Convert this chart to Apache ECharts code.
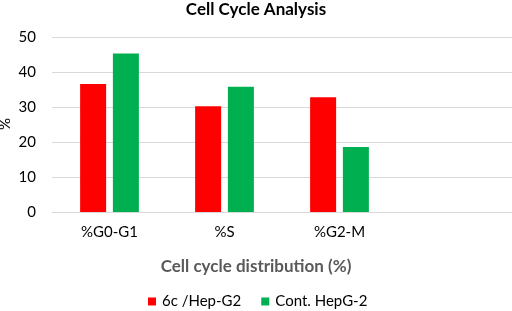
<!DOCTYPE html>
<html>
<head>
<meta charset="utf-8">
<script src="https://cdn.jsdelivr.net/npm/echarts@6/dist/echarts.min.js"></script>
<style>
html,body{margin:0;padding:0;background:#fff;}
#c{width:512px;height:311px;}
</style>
</head>
<body>
<div id="c"></div>
<script>
const categories = ['%G0-G1', '%S', '%G2-M', ''];
const seriesNames = ['6c /Hep-G2', 'Cont. HepG-2'];
const hepG2 = [36.6, 30.2, 32.8, null];
const contHepG2 = [45.3, 35.8, 18.6, null];
const yTicks = [0, 10, 20, 30, 40, 50];

const FONT = 'Lato, "Open Sans", sans-serif';
const chart = echarts.init(document.getElementById('c'), null, {renderer: 'canvas'});
chart.setOption({
  animation: false,
  backgroundColor: '#ffffff',
  textStyle: {fontFamily: FONT},
  title: {
    text: 'Cell Cycle Analysis',
    left: 'center',
    top: 1,
    padding: [0, 0, 0, 0],
    textStyle: {fontFamily: FONT, fontWeight: 'bold', fontSize: 17, color: '#000'}
  },
  grid: {left: 52, right: 0, top: 37, bottom: 99, containLabel: false, outerBoundsMode: 'none'},
  legend: {
    left: 148,
    top: 294,
    padding: 0,
    itemWidth: 8,
    itemHeight: 8,
    itemGap: 20,
    icon: 'rect',
    textStyle: {fontFamily: FONT, fontSize: 15, color: '#000', padding: [0, 0, 0, 1]},
    data: seriesNames
  },
  xAxis: {
    type: 'category',
    data: categories,
    axisLine: {show: true, lineStyle: {color: '#d9d9d9', width: 1}},
    axisTick: {show: false},
    axisLabel: {fontFamily: FONT, fontSize: 15, color: '#000', margin: 13}
  },
  yAxis: {
    type: 'value',
    min: yTicks[0],
    max: yTicks[yTicks.length - 1],
    interval: yTicks[1] - yTicks[0],
    axisLine: {show: false},
    axisTick: {show: false},
    axisLabel: {fontFamily: FONT, fontSize: 15, color: '#000', margin: 16},
    splitLine: {lineStyle: {color: '#d9d9d9', width: 1}}
  },
  graphic: [{
    type: 'text',
    left: 'center',
    top: 258,
    style: {
      text: 'Cell cycle distribution (%)',
      fontFamily: FONT,
      fontSize: 17,
      fontWeight: 'bold',
      fill: '#595959'
    }
  }, {
    type: 'text',
    x: 5,
    y: 124,
    rotation: Math.PI / 2,
    style: {
      text: '%',
      fontFamily: FONT,
      fontSize: 15,
      fill: '#000',
      align: 'center',
      verticalAlign: 'middle'
    }
  }],
  series: [
    {name: seriesNames[0], type: 'bar', data: hepG2, barWidth: 26, barGap: '26%',
     itemStyle: {color: '#ff0000'}},
    {name: seriesNames[1], type: 'bar', data: contHepG2, barWidth: 26, barGap: '26%',
     itemStyle: {color: '#00b050'}}
  ]
});
</script>
</body>
</html>
